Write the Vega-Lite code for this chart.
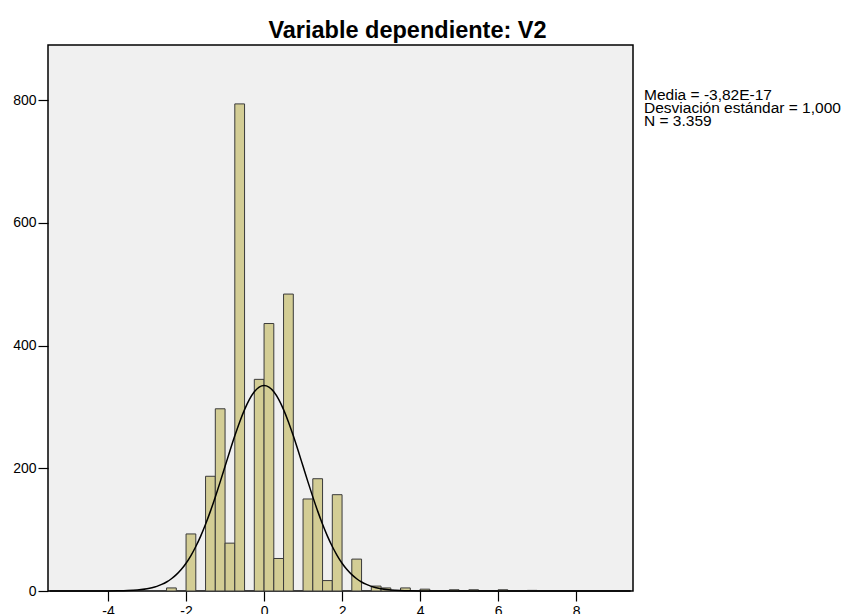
{
  "$schema": "https://vega.github.io/schema/vega-lite/v6.json",
  "width": 585,
  "height": 546,
  "autosize": {"type": "none"},
  "padding": {"left": 48, "top": 45, "right": 212, "bottom": 23},
  "background": "white",
  "title": {
    "text": "Variable dependiente: V2",
    "font": "Liberation Sans",
    "fontSize": 23.5,
    "fontWeight": "bold",
    "color": "black",
    "anchor": "middle",
    "dx": 67,
    "offset": 3
  },
  "config": {
    "view": {"stroke": "black", "strokeWidth": 1.5, "fill": "#f0f0f0"},
    "axis": {
      "grid": false,
      "domain": false,
      "tickColor": "black",
      "tickWidth": 1.2,
      "labelFont": "Liberation Sans",
      "labelFontSize": 14,
      "labelColor": "black",
      "labelPadding": 2,
      "labelExpr": "'' + datum.value",
      "title": null
    }
  },
  "datasets": {
    "bars": [
      {"bin_start": -2.5, "bin_end": -2.25, "count": 5},
      {"bin_start": -2.0, "bin_end": -1.75, "count": 93},
      {"bin_start": -1.5, "bin_end": -1.25, "count": 187},
      {"bin_start": -1.25, "bin_end": -1.0, "count": 297},
      {"bin_start": -1.0, "bin_end": -0.75, "count": 78},
      {"bin_start": -0.75, "bin_end": -0.5, "count": 794},
      {"bin_start": -0.25, "bin_end": 0.0, "count": 345},
      {"bin_start": 0.0, "bin_end": 0.25, "count": 436},
      {"bin_start": 0.25, "bin_end": 0.5, "count": 53},
      {"bin_start": 0.5, "bin_end": 0.75, "count": 484},
      {"bin_start": 1.0, "bin_end": 1.25, "count": 150},
      {"bin_start": 1.25, "bin_end": 1.5, "count": 183},
      {"bin_start": 1.5, "bin_end": 1.75, "count": 17},
      {"bin_start": 1.75, "bin_end": 2.0, "count": 157},
      {"bin_start": 2.25, "bin_end": 2.5, "count": 52},
      {"bin_start": 2.75, "bin_end": 3.0, "count": 8},
      {"bin_start": 3.0, "bin_end": 3.25, "count": 5},
      {"bin_start": 3.5, "bin_end": 3.75, "count": 5},
      {"bin_start": 4.0, "bin_end": 4.25, "count": 3},
      {"bin_start": 4.75, "bin_end": 5.0, "count": 2},
      {"bin_start": 5.25, "bin_end": 5.5, "count": 2},
      {"bin_start": 6.0, "bin_end": 6.25, "count": 2},
      {"bin_start": 6.75, "bin_end": 7.0, "count": 1}
    ],
    "curve": [
      {"x": -5.5, "y": 0}, {"x": -5.0, "y": 0}, {"x": -4.5, "y": 0},
      {"x": -4.25, "y": 0.04}, {"x": -4.0, "y": 0.11}, {"x": -3.75, "y": 0.30},
      {"x": -3.5, "y": 0.73}, {"x": -3.25, "y": 1.7}, {"x": -3.0, "y": 3.7},
      {"x": -2.875, "y": 5.4}, {"x": -2.75, "y": 7.6}, {"x": -2.625, "y": 10.7},
      {"x": -2.5, "y": 14.7}, {"x": -2.375, "y": 20.0}, {"x": -2.25, "y": 26.7},
      {"x": -2.125, "y": 35.0}, {"x": -2.0, "y": 45.3}, {"x": -1.875, "y": 57.8},
      {"x": -1.75, "y": 72.5}, {"x": -1.625, "y": 89.5}, {"x": -1.5, "y": 108.8},
      {"x": -1.375, "y": 130.2}, {"x": -1.25, "y": 153.4}, {"x": -1.125, "y": 177.9},
      {"x": -1.0, "y": 203.2}, {"x": -0.875, "y": 228.5}, {"x": -0.75, "y": 252.9},
      {"x": -0.625, "y": 275.6}, {"x": -0.5, "y": 295.6}, {"x": -0.375, "y": 312.3},
      {"x": -0.25, "y": 324.7}, {"x": -0.125, "y": 332.4}, {"x": 0.0, "y": 335.0},
      {"x": 0.125, "y": 332.4}, {"x": 0.25, "y": 324.7}, {"x": 0.375, "y": 312.3},
      {"x": 0.5, "y": 295.6}, {"x": 0.625, "y": 275.6}, {"x": 0.75, "y": 252.9},
      {"x": 0.875, "y": 228.5}, {"x": 1.0, "y": 203.2}, {"x": 1.125, "y": 177.9},
      {"x": 1.25, "y": 153.4}, {"x": 1.375, "y": 130.2}, {"x": 1.5, "y": 108.8},
      {"x": 1.625, "y": 89.5}, {"x": 1.75, "y": 72.5}, {"x": 1.875, "y": 57.8},
      {"x": 2.0, "y": 45.3}, {"x": 2.125, "y": 35.0}, {"x": 2.25, "y": 26.7},
      {"x": 2.375, "y": 20.0}, {"x": 2.5, "y": 14.7}, {"x": 2.625, "y": 10.7},
      {"x": 2.75, "y": 7.6}, {"x": 2.875, "y": 5.4}, {"x": 3.0, "y": 3.7},
      {"x": 3.25, "y": 1.7}, {"x": 3.5, "y": 0.73}, {"x": 3.75, "y": 0.30},
      {"x": 4.0, "y": 0.11}, {"x": 4.25, "y": 0.04}, {"x": 4.5, "y": 0},
      {"x": 5.0, "y": 0}, {"x": 6.0, "y": 0}, {"x": 7.0, "y": 0},
      {"x": 8.0, "y": 0}, {"x": 9.0, "y": 0}, {"x": 9.4, "y": 0}
    ],
    "stats": [
      {"label": "Media = -3,82E-17\nDesviación estándar = 1,000\nN = 3.359"}
    ]
  },
  "layer": [
    {
      "data": {"name": "bars"},
      "mark": {"type": "bar", "fill": "#d3cd95", "stroke": "#3a3a3a", "strokeWidth": 1},
      "encoding": {
        "x": {
          "field": "bin_start", "type": "quantitative",
          "scale": {"domain": [-5.54, 9.46], "nice": false, "zero": false},
          "axis": {"values": [-4, -2, 0, 2, 4, 6, 8], "tickSize": 10, "labelPadding": 3}
        },
        "x2": {"field": "bin_end"},
        "y": {
          "field": "count", "type": "quantitative",
          "scale": {"domain": [0, 890], "nice": false},
          "axis": {"values": [0, 200, 400, 600, 800], "tickSize": 10}
        },
        "y2": {"datum": 0}
      }
    },
    {
      "data": {"name": "curve"},
      "mark": {"type": "line", "color": "black", "strokeWidth": 1.5, "interpolate": "monotone"},
      "encoding": {
        "x": {"field": "x", "type": "quantitative"},
        "y": {"field": "y", "type": "quantitative"}
      }
    },
    {
      "data": {"name": "stats"},
      "mark": {
        "type": "text", "align": "left", "baseline": "alphabetic",
        "font": "Liberation Sans", "fontSize": 15.5, "lineHeight": 13,
        "lineBreak": "\n", "color": "black"
      },
      "encoding": {
        "x": {"value": 596},
        "y": {"value": 55},
        "text": {"field": "label"}
      }
    }
  ]
}
